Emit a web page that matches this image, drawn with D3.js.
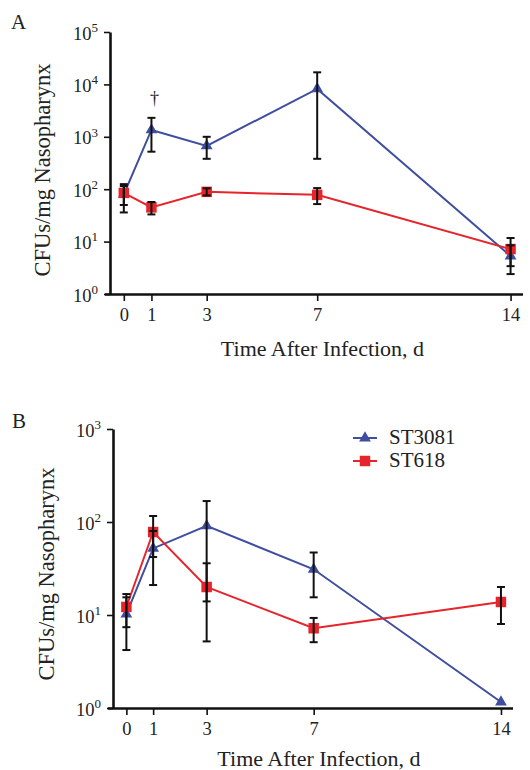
<!DOCTYPE html>
<html>
<head>
<meta charset="utf-8">
<script src="https://cdn.jsdelivr.net/npm/d3@7"></script>
<style>
  html, body { margin: 0; padding: 0; background: #fff; }
  svg text { font-family: "Liberation Serif", "DejaVu Serif", serif; fill: #222; }
</style>
</head>
<body>
<svg id="chart" width="530" height="770"></svg>
<script>
// ---- Data ----
const days = [0, 1, 3, 7, 14];
const seriesNames = ["ST3081", "ST618"];

// Panel A
const A_ST3081    = [80, 1350, 670, 8200, 5.3];
const A_ST3081_lo = [36, 520, 380, 380, 2.4];
const A_ST3081_hi = [125, 2300, 1000, 17000, 8.5];
const A_ST618     = [85, 45, 89, 78, 7.2];
const A_ST618_lo  = [50, 33, 76, 52, 3.4];
const A_ST618_hi  = [115, 57, 104, 105, 11.7];

// Panel B
const B_ST3081    = [10.2, 52, 91, 31, 1.16];
const B_ST3081_lo = [4.2, 21, 14, 15.5, 1.16];
const B_ST3081_hi = [15.5, 80, 168, 47, 1.16];
const B_ST618     = [12.2, 78, 20, 7.2, 13.8];
const B_ST618_lo  = [7.4, 42, 5.2, 5.1, 8.0];
const B_ST618_hi  = [16.8, 116, 36, 9.3, 20];

const A_yTicks = [1, 10, 100, 1000, 10000, 100000];
const B_yTicks = [1, 10, 100, 1000];
const xTickLabels = ["0", "1", "3", "7", "14"];

const xLabel = "Time After Infection, d";
const yLabel = "CFUs/mg Nasopharynx";

const BLUE = "#3f4e9f";
const RED = "#e6242b";

const svg = d3.select("#chart");

function drawPanel(cfg) {
  const g = svg.append("g");
  const x = d3.scaleLinear().domain([-0.5, 14.45]).range([cfg.left, cfg.right]);
  const y = d3.scaleLog().domain(cfg.yDomain).range([cfg.bottom, cfg.top]);

  // Y axis
  const yAxis = g.append("g")
    .attr("transform", `translate(${cfg.left},0)`)
    .call(d3.axisLeft(y).tickValues(cfg.yTicks).tickSize(6).tickSizeOuter(0).tickPadding(6));
  yAxis.select(".domain").attr("stroke", "#111").attr("stroke-width", 2.6);
  yAxis.selectAll(".tick line").attr("stroke", "#111").attr("stroke-width", 1.6);
  yAxis.selectAll(".tick text").each(function(d) {
    const t = d3.select(this);
    const exp = Math.round(Math.log10(d));
    t.text(null).attr("font-size", 18.5).attr("dy", "0.38em").attr("fill", "#222");
    t.append("tspan").text("10");
    t.append("tspan").text(exp).attr("font-size", 13).attr("dy", "-0.6em");
  });

  // X axis
  const xAxis = g.append("g")
    .attr("transform", `translate(0,${cfg.bottom})`)
    .call(d3.axisBottom(x).tickValues(days).tickFormat((d, i) => xTickLabels[i]).tickSize(7).tickSizeOuter(0).tickPadding(7));
  xAxis.select(".domain").attr("stroke", "#111").attr("stroke-width", 2.6)
    .attr("d", `M${cfg.left - 5},0.5H${cfg.right}`);
  xAxis.selectAll(".tick line").attr("stroke", "#111").attr("stroke-width", 1.6);
  xAxis.selectAll(".tick text").attr("font-size", 18.5).attr("fill", "#222");

  // Labels
  g.append("text").attr("x", (cfg.left + cfg.right) / 2 + 6).attr("y", cfg.xLabelY)
    .attr("text-anchor", "middle").attr("font-size", 22).text(xLabel);
  g.append("text")
    .attr("transform", `translate(${cfg.yLabelX},${cfg.yLabelCY}) rotate(-90)`)
    .attr("text-anchor", "middle").attr("font-size", 22.5).text(yLabel);
  g.append("text").attr("x", cfg.panelX).attr("y", cfg.panelY)
    .attr("font-size", 21).text(cfg.panel);

  const line = d3.line().x((d, i) => x(days[i])).y(d => y(d));
  const tri = d3.symbol().type(d3.symbolTriangle).size(60);
  const sq = d3.symbol().type(d3.symbolSquare).size(110);

  const series = [
    { vals: cfg.blue, lo: cfg.blueLo, hi: cfg.blueHi, color: BLUE, sym: tri },
    { vals: cfg.red, lo: cfg.redLo, hi: cfg.redHi, color: RED, sym: sq }
  ];
  const order = cfg.redOnTop ? [0, 1] : [1, 0];
  order.forEach(k => {
    const s = series[k];
    g.append("path").datum(s.vals).attr("d", line)
      .attr("fill", "none").attr("stroke", s.color).attr("stroke-width", 2);
    g.selectAll(null).data(s.vals).enter().append("path")
      .attr("d", s.sym)
      .attr("transform", (d, i) => `translate(${x(days[i])},${y(d)})`)
      .attr("fill", s.color);
  });
  // error bars on top
  series.forEach(s => {
    s.vals.forEach((v, i) => {
      if (s.lo[i] === s.hi[i]) return;
      const cx = x(days[i]);
      const eg = g.append("g").attr("stroke", "#111").attr("stroke-width", 2);
      eg.append("line").attr("x1", cx).attr("x2", cx).attr("y1", y(s.lo[i])).attr("y2", y(s.hi[i]));
      eg.append("line").attr("x1", cx - 4).attr("x2", cx + 4).attr("y1", y(s.lo[i])).attr("y2", y(s.lo[i]));
      eg.append("line").attr("x1", cx - 4).attr("x2", cx + 4).attr("y1", y(s.hi[i])).attr("y2", y(s.hi[i]));
    });
  });
  return { g, x, y, tri, sq };
}

const pA = drawPanel({
  panel: "A", panelX: 11, panelY: 29,
  left: 110, right: 523, top: 32, bottom: 294,
  yDomain: [1, 1e5], yTicks: A_yTicks,
  xLabelY: 356, yLabelX: 50, yLabelCY: 170,
  blue: A_ST3081, blueLo: A_ST3081_lo, blueHi: A_ST3081_hi,
  red: A_ST618, redLo: A_ST618_lo, redHi: A_ST618_hi,
  redOnTop: true
});
// significance dagger
pA.g.append("text").attr("x", pA.x(days[1]) + 3).attr("y", pA.y(A_ST3081_hi[1]) - 14)
  .attr("text-anchor", "middle").attr("font-size", 18).text("†");

const pB = drawPanel({
  panel: "B", panelX: 12, panelY: 428,
  left: 113, right: 513, top: 429, bottom: 708,
  yDomain: [1, 1e3], yTicks: B_yTicks,
  xLabelY: 766, yLabelX: 54, yLabelCY: 574,
  blue: B_ST3081, blueLo: B_ST3081_lo, blueHi: B_ST3081_hi,
  red: B_ST618, redLo: B_ST618_lo, redHi: B_ST618_hi,
  redOnTop: true
});

// Legend
const legend = svg.append("g").attr("transform", "translate(353,438)");
const legColors = [BLUE, RED];
const legSyms = [pB.tri, pB.sq];
seriesNames.forEach((name, i) => {
  const row = legend.append("g").attr("transform", `translate(0,${i * 23})`);
  row.append("line").attr("x1", 0).attr("x2", 24).attr("y1", 0).attr("y2", 0)
    .attr("stroke", legColors[i]).attr("stroke-width", 2);
  row.append("path").attr("d", legSyms[i]).attr("transform", "translate(12,0)").attr("fill", legColors[i]);
  row.append("text").attr("x", 36).attr("y", 6).attr("font-size", 21).text(name);
});
</script>
</body>
</html>
